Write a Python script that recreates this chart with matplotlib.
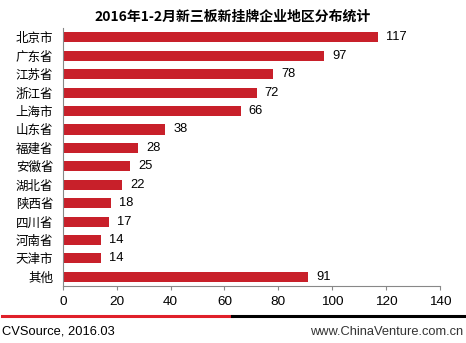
import matplotlib.pyplot as plt
from matplotlib.lines import Line2D

plt.rcParams['font.family'] = ['Noto Sans CJK SC', 'DejaVu Sans']

# Data
regions = ['北京市', '广东省', '江苏省', '浙江省', '上海市', '山东省', '福建省',
           '安徽省', '湖北省', '陕西省', '四川省', '河南省', '天津市', '其他']
counts = [117, 97, 78, 72, 66, 38, 28, 25, 22, 18, 17, 14, 14, 91]
xticks = [0, 20, 40, 60, 80, 100, 120, 140]

bar_color = '#C8202A'
latin = ['Liberation Sans', 'DejaVu Sans']

fig = plt.figure(figsize=(4.66, 3.43), dpi=100)
ax = fig.add_axes([0.135, 0.166, 0.809, 0.752])

ypos = list(range(len(regions)))
ax.barh(ypos, counts, height=0.55, color=bar_color)
for y, v in zip(ypos, counts):
    ax.text(v + 3, y, str(v), va='center', ha='left', fontsize=9.3, family=latin)

ax.set_ylim(len(regions) - 0.5, -0.5)
ax.set_xlim(0, 140)
ax.set_xticks(xticks)
ax.set_xticklabels([str(t) for t in xticks], fontsize=9.7, family=latin)
ax.set_yticks(ypos)
ax.set_yticklabels(regions, fontsize=9)
ax.tick_params(axis='y', length=0, pad=7)
ax.tick_params(axis='x', length=3, color='#888888', pad=4)

for s in ['top', 'right']:
    ax.spines[s].set_visible(False)
ax.spines['left'].set_color('#888888')
ax.spines['bottom'].set_color('#888888')

fig.text(0.5, 0.952, '2016年1-2月新三板新挂牌企业地区分布统计', ha='center', va='center',
         fontsize=10, fontweight='bold')

# footer lines
fig.add_artist(Line2D([0.004, 0.498], [0.079, 0.079], color='#E0202A', lw=2.2))
fig.add_artist(Line2D([0.498, 0.995], [0.079, 0.079], color='black', lw=2.2))
fig.text(0.004, 0.033, 'CVSource, 2016.03', ha='left', va='center', fontsize=9.3,
         family=latin)
fig.text(0.993, 0.033, 'www.ChinaVenture.com.cn', ha='right', va='center', fontsize=9.3,
         family=latin, color='#333333')

fig.savefig('out.png', dpi=100)
